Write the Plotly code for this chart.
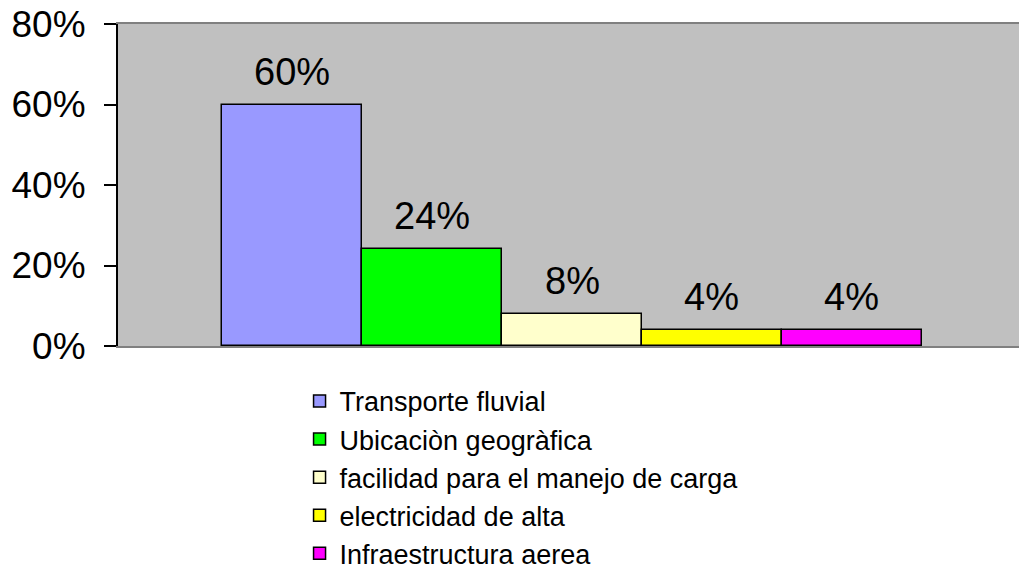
import plotly.graph_objects as go

# data
factores = ['Transporte fluvial', 'Ubicaciòn geogràfica', 'facilidad para el manejo de carga',
            'electricidad de alta', 'Infraestructura aerea']
porcentajes = [0.60, 0.24, 0.08, 0.04, 0.04]
colores = ['#9999FF', '#00FF00', '#FFFFCC', '#FFFF00', '#FF00FF']

fig = go.Figure()

# one trace per factor so each one gets its own legend entry
for nombre, valor, color in zip(factores, porcentajes, colores):
    fig.add_trace(go.Bar(
        x=[nombre],
        y=[valor],
        name=nombre,
        marker=dict(color=color, line=dict(color='black', width=1.5)),
        showlegend=True,
    ))

# value labels above each bar
for nombre, valor in zip(factores, porcentajes):
    fig.add_annotation(
        x=nombre, y=valor, text=f'{valor:.0%}', showarrow=False,
        yanchor='middle', yshift=33,
        font=dict(size=38, color='black', family='Liberation Sans, Arial, sans-serif'),
    )

fig.update_layout(
    width=1019,
    height=569,
    margin=dict(l=118, r=0, t=24, b=223, autoexpand=False),
    barmode='overlay',
    bargap=0,
    plot_bgcolor='#C0C0C0',
    paper_bgcolor='white',
    font=dict(family='Liberation Sans, Arial, sans-serif', color='black'),
    legend=dict(
        x=0.2015, y=-0.096, xanchor='left', yanchor='top',
        font=dict(size=27, color='black'),
        bgcolor='rgba(0,0,0,0)',
        traceorder='normal',
        tracegroupgap=0,
    ),
)

fig.update_xaxes(
    type='category',
    range=[-1.243, 5.193],
    showticklabels=False,
    showgrid=False,
    zeroline=False,
    showline=True,
    linecolor='#808080',
    linewidth=1.5,
    mirror=True,
    ticks='',
    automargin=False,
)

fig.update_yaxes(
    range=[0, 0.8],
    tickvals=[0, 0.2, 0.4, 0.6, 0.8],
    tickformat='.0%',
    tickfont=dict(size=37, color='black'),
    ticklabelstandoff=11,
    showgrid=False,
    zeroline=False,
    showline=True,
    linecolor='black',
    linewidth=2,
    ticks='outside',
    ticklen=12,
    tickwidth=2,
    tickcolor='black',
    automargin=False,
)

# drop the default page margin so the figure sits at the window's corner
fig.write_html("out.html", config={'displayModeBar': False},
               post_script="document.body.style.margin='0';")
